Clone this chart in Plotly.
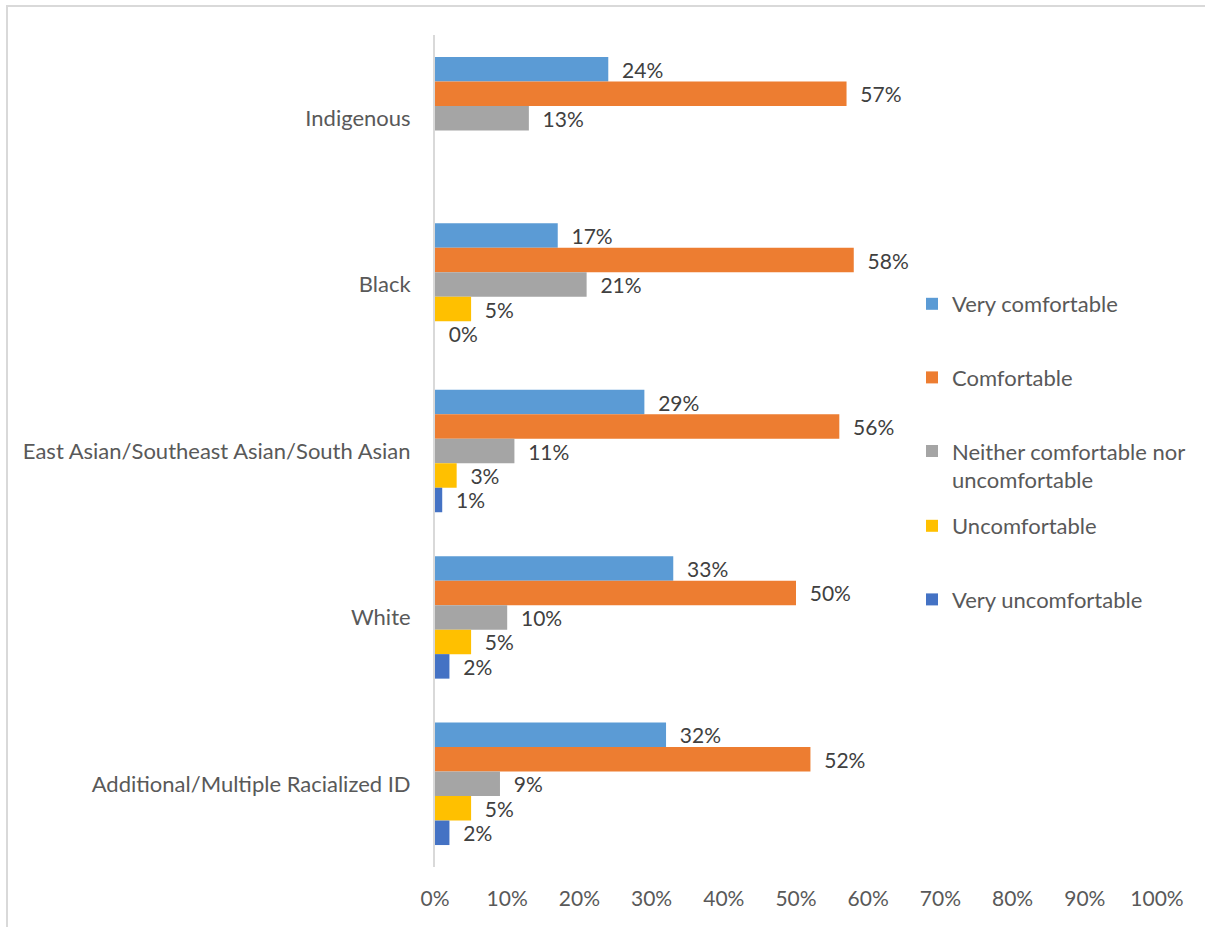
import plotly.graph_objects as go

# Survey groups (top to bottom) and the share of respondents in each comfort level
groups = [
    "Indigenous",
    "Black",
    "East Asian/Southeast Asian/South Asian",
    "White",
    "Additional/Multiple Racialized ID",
]
levels = [
    "Very comfortable",
    "Comfortable",
    "Neither comfortable nor<br>uncomfortable",
    "Uncomfortable",
    "Very uncomfortable",
]
very_comfortable = [0.24, 0.17, 0.29, 0.33, 0.32]
comfortable = [0.57, 0.58, 0.56, 0.50, 0.52]
neither = [0.13, 0.21, 0.11, 0.10, 0.09]
uncomfortable = [None, 0.05, 0.03, 0.05, 0.05]
very_uncomfortable = [None, 0.00, 0.01, 0.02, 0.02]
x_ticks = [0, 0.1, 0.2, 0.3, 0.4, 0.5, 0.6, 0.7, 0.8, 0.9, 1.0]
x_tick_labels = ["0%", "10%", "20%", "30%", "40%", "50%", "60%", "70%", "80%", "90%", "100%"]

series = [very_comfortable, comfortable, neither, uncomfortable, very_uncomfortable]
colors = ["#5B9BD5", "#ED7D31", "#A5A5A5", "#FFC000", "#4472C4"]
legend_ids = ["legend", "legend", "legend", "legend2", "legend2"]

FONT = "Lato"
W, H = 1205, 927
ML, MR, MT, MB = 435, 48, 35, 60
PW = W - ML - MR
PH = H - MT - MB


def px_x(px):
    return (px - ML) / PW


def px_y(py):
    return 1 - (py - MT) / PH


fig = go.Figure()
for name, vals, color, lg in zip(levels, series, colors, legend_ids):
    fig.add_trace(
        go.Bar(
            y=groups,
            x=vals,
            name=name,
            orientation="h",
            marker=dict(color=color, line=dict(width=0)),
            texttemplate="\u00a0\u00a0%{x:.0%}",
            textposition="outside",
            constraintext="none",
            cliponaxis=False,
            textfont=dict(family=FONT, size=21, color="#404040"),
            legend=lg,
            legendgroup=name,
            hoverinfo="skip",
        )
    )

legend_common = dict(
    font=dict(family=FONT, size=22, color="#595959"),
    bgcolor="rgba(0,0,0,0)",
    valign="top",
    tracegroupgap=42,
    itemwidth=30,
    xanchor="left",
    yanchor="top",
    traceorder="grouped",
)

fig.update_layout(
    width=W,
    height=H,
    margin=dict(l=ML, r=MR, t=MT, b=MB, autoexpand=False),
    paper_bgcolor="white",
    plot_bgcolor="white",
    barmode="group",
    bargap=0.264,
    bargroupgap=0,
    font=dict(family=FONT, size=22, color="#595959"),
    legend=dict(x=px_x(912), y=px_y(283), **legend_common),
    legend2=dict(x=px_x(912), y=px_y(505), **legend_common),
    xaxis=dict(
        range=[0, 1],
        tickvals=x_ticks,
        ticktext=x_tick_labels,
        showgrid=False,
        zeroline=False,
        showline=False,
        ticks="",
        ticklabelstandoff=17,
        tickfont=dict(family=FONT, size=21, color="#595959"),
    ),
    yaxis=dict(
        autorange="reversed",
        showgrid=False,
        showline=True,
        linecolor="#D9D9D9",
        linewidth=2,
        ticks="",
        ticklabelstandoff=18,
        tickfont=dict(family=FONT, size=22, color="#595959"),
    ),
    shapes=[
        # chart frame: top and left edges
        dict(type="line", xref="paper", yref="paper",
             x0=px_x(6), x1=px_x(1205), y0=px_y(6), y1=px_y(6),
             line=dict(color="#D9D9D9", width=2)),
        dict(type="line", xref="paper", yref="paper",
             x0=px_x(7), x1=px_x(7), y0=px_y(6), y1=px_y(927),
             line=dict(color="#D9D9D9", width=2)),
    ],
)

fig.write_html("out.html")
